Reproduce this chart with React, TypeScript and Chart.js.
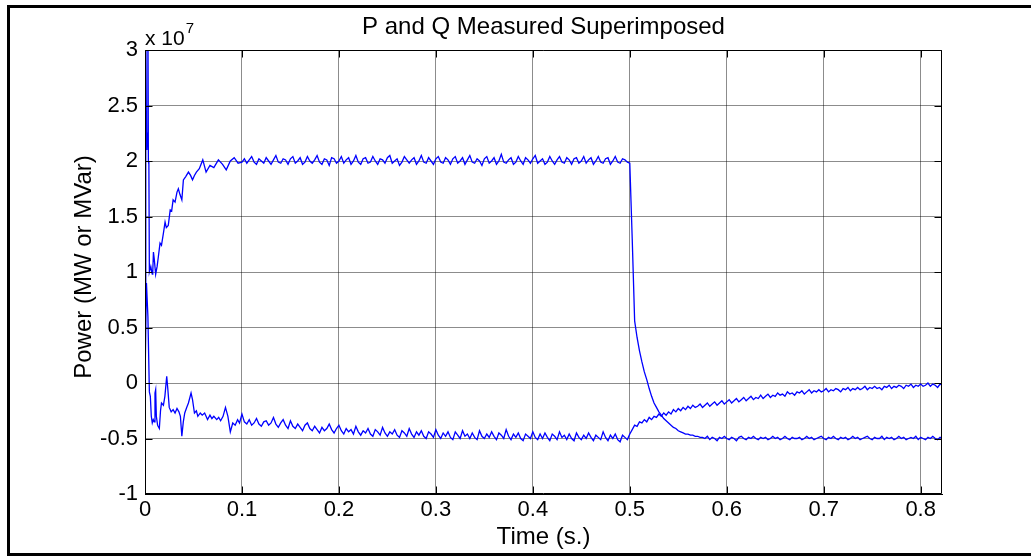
import React, { useEffect, useRef } from "react";
import { Chart, registerables } from "chart.js";

Chart.register(...registerables);

const TITLE = "P and Q Measured Superimposed";
const X_LABEL = "Time (s.)";
const Y_LABEL = "Power (MW or MVar)";
const Y_EXP_BASE = "x 10";
const Y_EXP = "7";

const X_MIN = 0;
const X_MAX = 0.822;
const X_STEP = 0.1;
const Y_MIN = -1;
const Y_MAX = 3;
const Y_STEP = 0.5;

// Start-up transient (t in s, power in units of 1e7)
const P_START_T = [
  0, 0.0008, 0.0015, 0.002, 0.0025, 0.003, 0.0035, 0.004, 0.0045, 0.005,
  0.006, 0.007, 0.0075, 0.008, 0.0087, 0.0095, 0.011, 0.0125, 0.0138, 0.0155,
  0.017, 0.019, 0.0207, 0.022, 0.024, 0.026, 0.0275, 0.029, 0.031, 0.033,
  0.0344, 0.036, 0.038, 0.0396, 0.042, 0.0448, 0.047, 0.049, 0.051, 0.053,
  0.056, 0.0596, 0.063, 0.067, 0.071, 0.0757, 0.08, 0.0838, 0.088, 0.092,
  0.096,
];
const P_START_V = [
  0.9, 3.3, 2.25, 2.1, 2.25, 3.3, 2.0, 1.97, 1.0, 1.0,
  1.05, 1.0, 0.98, 1.0, 1.18, 1.12, 0.98, 1.05, 1.14, 1.26,
  1.24, 1.35, 1.45, 1.4, 1.42, 1.56, 1.55, 1.65, 1.63, 1.72,
  1.75, 1.7, 1.65, 1.83, 1.86, 1.9, 1.87, 1.83, 1.87, 1.9,
  1.93, 2.01, 1.9, 1.96, 1.94, 2.01, 1.97, 1.92, 2.0, 2.03,
  1.98,
];
const Q_START_T = [
  0, 0.0015, 0.003, 0.0045, 0.0055, 0.0065, 0.0075, 0.0085, 0.0095, 0.0103,
  0.011, 0.0117, 0.013, 0.0148, 0.016, 0.017, 0.019, 0.0205, 0.0224, 0.0235,
  0.025, 0.027, 0.029, 0.031, 0.033, 0.035, 0.0365, 0.038, 0.0395, 0.041,
  0.043, 0.0448, 0.0475, 0.049, 0.051, 0.053, 0.0545, 0.057, 0.059, 0.0615,
  0.0645, 0.067, 0.069, 0.071, 0.074, 0.076, 0.078, 0.0805, 0.083, 0.0855,
  0.088, 0.0905, 0.093, 0.0955, 0.0975,
];
const Q_START_V = [
  0.0, 0.9, 0.6, -0.08, -0.12, -0.3, -0.36, -0.33, -0.35, -0.09,
  -0.06, -0.3, -0.38, -0.41, -0.25, -0.18, -0.2, -0.12, 0.06, -0.05,
  -0.22, -0.26, -0.24, -0.27, -0.23, -0.26, -0.3, -0.48, -0.35, -0.27,
  -0.22, -0.18, -0.09, -0.15, -0.27, -0.25, -0.3, -0.27, -0.29, -0.27,
  -0.33, -0.29, -0.32, -0.3, -0.33, -0.31, -0.34, -0.3, -0.22, -0.3,
  -0.44, -0.36, -0.38, -0.33, -0.36,
];

// From 0.1 s on, samples every 2.5 ms
const SAMPLED_FROM = 0.1;
const SAMPLE_STEP = 0.0025;

const P_SAMPLED = [
  1.99, 2.02, 1.98, 2.01, 2.04, 1.99, 1.97, 2.02, 2.0, 1.98,
  2.03, 2.0, 1.97, 2.01, 2.05, 1.99, 1.98, 2.02, 2.01, 1.97,
  2.02, 2.04, 1.98, 2.0, 2.03, 1.97, 1.99, 2.04, 2.0, 1.98,
  2.01, 2.05, 1.99, 1.97, 2.02, 2.01, 1.96, 2.03, 2.02, 1.98,
  2.0, 2.04, 1.98, 2.01, 2.03, 1.97, 2.0, 2.05, 1.99, 1.97,
  2.02, 2.03, 1.98, 1.99, 2.04, 2.0, 1.97, 2.02, 2.01, 1.98,
  2.03, 2.05, 1.98, 2.0, 2.02, 1.96, 1.99, 2.04, 2.01, 1.98,
  2.01, 2.03, 1.97, 2.0, 2.05, 1.99, 1.98, 2.03, 2.0, 1.97,
  2.02, 2.04, 1.99, 1.98, 2.03, 2.01, 1.97, 2.02, 2.04, 1.98,
  2.0, 2.03, 1.97, 2.01, 2.05, 1.99, 1.98, 2.02, 2.0, 1.96,
  2.02, 2.04, 1.98, 2.0, 2.03, 1.97, 2.0, 2.06, 1.99, 1.98,
  2.01, 2.03, 1.97, 1.99, 2.04, 2.0, 1.97, 2.03, 2.01, 1.98,
  2.02, 2.05, 1.98, 2.0, 2.02, 1.97, 1.99, 2.04, 2.0, 1.97,
  2.01, 2.04, 1.99, 1.98, 2.03, 2.01, 1.97, 2.02, 2.03, 1.98,
  2.0, 2.04, 1.98, 2.01, 2.03, 1.97, 2.0, 2.04, 1.99, 1.98,
  2.02, 2.03, 1.97, 2.0, 2.04, 1.99, 1.98, 2.02, 2.01, 1.99,
  1.98, 1.3, 0.56, 0.41, 0.29, 0.19, 0.1, 0.03, -0.05, -0.12,
  -0.18, -0.22, -0.26, -0.29, -0.32, -0.34, -0.36, -0.38, -0.4, -0.41,
  -0.43, -0.44, -0.45, -0.46, -0.46, -0.47, -0.47, -0.48, -0.48, -0.49,
  -0.49, -0.5, -0.48, -0.51, -0.49, -0.5, -0.52, -0.49, -0.5, -0.48,
  -0.5, -0.51, -0.49, -0.5, -0.52, -0.49, -0.48, -0.5, -0.51, -0.49,
  -0.5, -0.48, -0.5, -0.51, -0.49, -0.5, -0.49, -0.51, -0.5, -0.48,
  -0.5, -0.49, -0.51, -0.5, -0.48, -0.5, -0.51, -0.49, -0.5, -0.5,
  -0.49, -0.51, -0.5, -0.48, -0.5, -0.49, -0.51, -0.5, -0.49, -0.48,
  -0.5, -0.51, -0.49, -0.5, -0.48, -0.5, -0.51, -0.49, -0.5, -0.49,
  -0.51, -0.5, -0.48, -0.5, -0.49, -0.51, -0.5, -0.49, -0.48, -0.5,
  -0.51, -0.49, -0.5, -0.5, -0.48, -0.51, -0.49, -0.5, -0.49, -0.51,
  -0.5, -0.48, -0.5, -0.49, -0.51, -0.5, -0.49, -0.5, -0.48, -0.51,
  -0.49, -0.5, -0.51, -0.49, -0.5, -0.48, -0.5, -0.51, -0.49, -0.5,
];

const Q_SAMPLED = [
  -0.28, -0.35, -0.37, -0.33, -0.38, -0.36, -0.32, -0.37, -0.39, -0.35,
  -0.34, -0.38, -0.36, -0.31, -0.37, -0.4, -0.36, -0.33, -0.38, -0.41,
  -0.34, -0.39, -0.41, -0.37, -0.4, -0.43, -0.38, -0.36, -0.41, -0.43,
  -0.39, -0.42, -0.45, -0.4, -0.43, -0.41, -0.37, -0.42, -0.45, -0.41,
  -0.38, -0.43, -0.46, -0.41, -0.44, -0.42, -0.46, -0.39, -0.44, -0.47,
  -0.43, -0.45, -0.41, -0.46, -0.48, -0.42, -0.44, -0.47, -0.4, -0.45,
  -0.48, -0.44, -0.46, -0.42, -0.47, -0.49, -0.43, -0.45, -0.48, -0.41,
  -0.46, -0.49, -0.44, -0.47, -0.43, -0.48, -0.5, -0.44, -0.46, -0.49,
  -0.42, -0.47, -0.5, -0.45, -0.48, -0.44, -0.49, -0.51, -0.44, -0.47,
  -0.5, -0.43, -0.48, -0.46, -0.5, -0.45, -0.49, -0.51, -0.43, -0.48,
  -0.5, -0.46, -0.49, -0.44, -0.48, -0.51, -0.45, -0.47, -0.5, -0.42,
  -0.48, -0.51, -0.46, -0.49, -0.45, -0.5, -0.52, -0.46, -0.48, -0.5,
  -0.44, -0.49, -0.51, -0.46, -0.5, -0.45, -0.49, -0.52, -0.46, -0.48,
  -0.51, -0.44, -0.49, -0.47, -0.51, -0.46, -0.5, -0.52, -0.45, -0.49,
  -0.51, -0.47, -0.5, -0.45, -0.49, -0.52, -0.47, -0.49, -0.51, -0.44,
  -0.49, -0.52, -0.47, -0.5, -0.46, -0.51, -0.53, -0.47, -0.49, -0.51,
  -0.46, -0.42, -0.38, -0.39, -0.35, -0.36, -0.33, -0.35, -0.31, -0.33,
  -0.3, -0.31, -0.28, -0.3, -0.27, -0.29, -0.26, -0.28, -0.24, -0.26,
  -0.23, -0.25, -0.22, -0.24, -0.21, -0.23, -0.2, -0.22, -0.21, -0.19,
  -0.22, -0.2, -0.18, -0.21, -0.19, -0.17, -0.2, -0.18, -0.16, -0.19,
  -0.17, -0.15, -0.18, -0.16, -0.14, -0.17, -0.15, -0.13, -0.16, -0.14,
  -0.12, -0.15, -0.13, -0.14, -0.11, -0.14, -0.12, -0.1, -0.13, -0.11,
  -0.12, -0.09, -0.11, -0.1, -0.12, -0.08, -0.1, -0.09, -0.11, -0.08,
  -0.09, -0.07, -0.1, -0.08, -0.06, -0.09, -0.07, -0.08, -0.06, -0.08,
  -0.07, -0.05, -0.08, -0.06, -0.07, -0.05, -0.06, -0.08, -0.05, -0.06,
  -0.04, -0.07, -0.05, -0.06, -0.04, -0.06, -0.05, -0.03, -0.06, -0.04,
  -0.05, -0.03, -0.05, -0.04, -0.06, -0.03, -0.04, -0.02, -0.05, -0.03,
  -0.04, -0.02, -0.03, -0.05, -0.02, -0.03, -0.01, -0.04, -0.02, -0.03,
  -0.01, -0.03, -0.02, 0.0, -0.03, -0.01, -0.02, -0.04, -0.01, -0.02,
];

const LINE_COLOR = "#0000ff";
const FONT = "'Liberation Sans', Arial, sans-serif";
const TICK_FONT_SIZE = 22;
const LABEL_FONT_SIZE = 24;

function buildSeries(startT: number[], startV: number[], sampled: number[]) {
  const pts: { x: number; y: number }[] = [];
  startT.forEach((t, i) => pts.push({ x: t, y: startV[i] }));
  sampled.forEach((v, i) =>
    pts.push({ x: +(SAMPLED_FROM + i * SAMPLE_STEP).toFixed(5), y: v })
  );
  return pts;
}

const fmt = (v: number | string) => String(Number(Number(v).toFixed(2)));

const decorPlugin = {
  id: "matlabDecor",
  beforeDraw(chart: any) {
    const { ctx, width, height } = chart;
    ctx.save();
    ctx.fillStyle = "#ffffff";
    ctx.fillRect(0, 0, width, height);
    ctx.fillStyle = "#000000";
    ctx.fillRect(7, 5, width - 7, 3);
    ctx.fillRect(7, 5, 3, 551);
    ctx.fillRect(7, 553, width - 7, 3);
    ctx.restore();
  },
  afterDraw(chart: any) {
    const { ctx, chartArea: a, scales } = chart;
    const xs = scales.x;
    const ys = scales.y;
    const L = Math.round(a.left) + 0.5;
    const R = Math.round(a.right) - 0.5;
    const T = Math.round(a.top) + 0.5;
    const B = Math.round(a.bottom) - 0.5;
    ctx.save();
    ctx.strokeStyle = "#000000";
    ctx.lineWidth = 1;
    ctx.beginPath();
    ctx.rect(L, T, R - L, B - T);
    const tl = 7;
    xs.ticks.forEach((t: any) => {
      const px = Math.round(xs.getPixelForValue(t.value)) + 0.5;
      ctx.moveTo(px, B);
      ctx.lineTo(px, B - tl);
      ctx.moveTo(px, T);
      ctx.lineTo(px, T + tl);
    });
    ys.ticks.forEach((t: any) => {
      const py = Math.round(ys.getPixelForValue(t.value)) + 0.5;
      ctx.moveTo(L, py);
      ctx.lineTo(L + tl, py);
      ctx.moveTo(R, py);
      ctx.lineTo(R - tl, py);
    });
    ctx.stroke();

    ctx.fillStyle = "#000000";
    const cx = (a.left + a.right) / 2;
    const cy = (a.top + a.bottom) / 2;
    ctx.textAlign = "center";
    ctx.textBaseline = "middle";
    ctx.font = `${LABEL_FONT_SIZE}px ${FONT}`;
    ctx.fillText(TITLE, cx, 27);
    ctx.fillText(X_LABEL, cx, 537);
    ctx.save();
    ctx.translate(84, cy - 5);
    ctx.rotate(-Math.PI / 2);
    ctx.fillText(Y_LABEL, 0, 0);
    ctx.restore();
    ctx.textAlign = "left";
    ctx.textBaseline = "alphabetic";
    ctx.font = `21px ${FONT}`;
    ctx.fillText(Y_EXP_BASE, a.left, 45);
    const w = ctx.measureText(Y_EXP_BASE).width;
    ctx.font = `15px ${FONT}`;
    ctx.fillText(Y_EXP, a.left + w + 1, 33);
    ctx.restore();
  },
};

export default function App() {
  const ref = useRef<HTMLCanvasElement>(null);
  useEffect(() => {
    if (!ref.current) return;
    const chart = new Chart(ref.current, {
      type: "line",
      data: {
        datasets: [
          {
            label: "P",
            data: buildSeries(P_START_T, P_START_V, P_SAMPLED),
            borderColor: LINE_COLOR,
            borderWidth: 1.3,
            pointRadius: 0,
            tension: 0,
            fill: false,
          },
          {
            label: "Q",
            data: buildSeries(Q_START_T, Q_START_V, Q_SAMPLED),
            borderColor: LINE_COLOR,
            borderWidth: 1.3,
            pointRadius: 0,
            tension: 0,
            fill: false,
          },
        ],
      },
      options: {
        animation: false,
        responsive: false,
        maintainAspectRatio: false,
        devicePixelRatio: 1,
        layout: { padding: { left: 0, top: 50, right: 89, bottom: 0 } },
        plugins: {
          legend: { display: false },
          title: { display: false },
          tooltip: { enabled: false },
        },
        scales: {
          x: {
            type: "linear",
            min: X_MIN,
            max: X_MAX,
            grid: { color: "rgba(0,0,0,0.45)", lineWidth: 1, drawTicks: false },
            border: { display: true, color: "#000000", width: 1 },
            ticks: {
              stepSize: X_STEP,
              includeBounds: false,
              padding: 3,
              color: "#000000",
              font: { family: FONT, size: TICK_FONT_SIZE },
              maxRotation: 0,
              autoSkip: false,
              callback: (v: any) => fmt(v),
            },
            afterFit: (s: any) => {
              s.height = 63;
            },
          },
          y: {
            type: "linear",
            min: Y_MIN,
            max: Y_MAX,
            grid: { color: "rgba(0,0,0,0.45)", lineWidth: 1, drawTicks: false },
            border: { display: true, color: "#000000", width: 1 },
            ticks: {
              stepSize: Y_STEP,
              includeBounds: false,
              padding: 7,
              color: "#000000",
              font: { family: FONT, size: TICK_FONT_SIZE },
              autoSkip: false,
              callback: (v: any) => fmt(v),
            },
            afterFit: (s: any) => {
              s.width = 145;
            },
          },
        },
      },
      plugins: [decorPlugin],
    } as any);
    return () => chart.destroy();
  }, []);
  return (
    <div
      style={{
        position: "fixed",
        left: 0,
        top: 0,
        width: 1031,
        height: 557,
        background: "#ffffff",
      }}
    >
      <canvas
        ref={ref}
        width={1031}
        height={557}
        style={{ display: "block", width: 1031, height: 557 }}
      />
    </div>
  );
}
